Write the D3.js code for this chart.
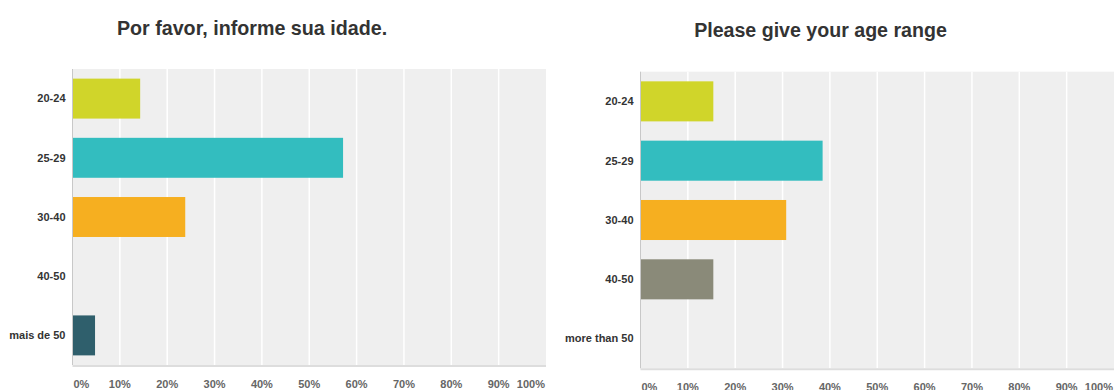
<!DOCTYPE html>
<html>
<head>
<meta charset="utf-8">
<script src="https://cdn.jsdelivr.net/npm/d3@7"></script>
<style>
  html, body { margin: 0; padding: 0; background: #fff; }
  svg { display: block; font-family: "Liberation Sans", Arial, Helvetica, sans-serif; }
</style>
</head>
<body>
<svg id="chart" width="1114" height="390"></svg>
<script>
// Survey: age ranges (share of respondents, %)
const ptTitle = "Por favor, informe sua idade.";
const ptCategories = ["20-24", "25-29", "30-40", "40-50", "mais de 50"];
const ptValues = [14.29, 57.14, 23.81, 0, 4.76];

const enTitle = "Please give your age range";
const enCategories = ["20-24", "25-29", "30-40", "40-50", "more than 50"];
const enValues = [15.38, 38.46, 30.77, 15.38, 0];

const barColors = ["#d0d52a", "#33bdbf", "#f6af20", "#8a8a79", "#2f5f6c"];
const tickValues = [0, 10, 20, 30, 40, 50, 60, 70, 80, 90, 100];
const tickLabels = ["0%", "10%", "20%", "30%", "40%", "50%", "60%", "70%", "80%", "90%", "100%"];

const svg = d3.select("#chart");

function drawPanel(opts) {
  const { title, categories, values, left, top, width, height, titleX, titleY, titleSize, tickY } = opts;
  const g = svg.append("g");

  const x = d3.scaleLinear().domain([0, 100]).range([left, left + width]);
  const y = d3.scaleBand().domain(categories).range([top, top + height])
    .paddingInner(0.325).paddingOuter(0.1625);

  // plot background
  g.append("rect")
    .attr("x", left).attr("y", top)
    .attr("width", width).attr("height", height)
    .attr("fill", "#efefef");

  // vertical gridlines
  g.selectAll(".grid").data(tickValues.filter(t => t > 0 && t < 100))
    .join("line")
    .attr("x1", d => x(d)).attr("x2", d => x(d))
    .attr("y1", top).attr("y2", top + height)
    .attr("stroke", "#ffffff").attr("stroke-width", 1.5);

  // bars
  g.selectAll(".bar").data(categories.map((c, i) => ({ c, v: values[i], i })))
    .join("rect")
    .attr("x", x(0))
    .attr("y", d => y(d.c))
    .attr("width", d => x(d.v) - x(0))
    .attr("height", y.bandwidth())
    .attr("fill", d => barColors[d.i]);

  // left axis line
  g.append("line")
    .attr("x1", left).attr("x2", left)
    .attr("y1", top).attr("y2", top + height)
    .attr("stroke", "#c8c8c8").attr("stroke-width", 1);

  // bottom axis line
  g.append("line")
    .attr("x1", left).attr("x2", left + width)
    .attr("y1", top + height + 1).attr("y2", top + height + 1)
    .attr("stroke", "#dddddd").attr("stroke-width", 2);

  // category labels
  g.selectAll(".cat").data(categories)
    .join("text")
    .attr("x", left - 7)
    .attr("y", d => y(d) + y.bandwidth() / 2)
    .attr("dy", "0.35em")
    .attr("text-anchor", "end")
    .attr("font-size", 11)
    .attr("font-weight", "bold")
    .attr("fill", "#333")
    .text(d => d);

  // x tick labels
  g.selectAll(".tick").data(tickValues)
    .join("text")
    .attr("x", (d, i) => i === 0 ? x(d) + 1 : (d === 100 ? x(d) - 1 : x(d)))
    .attr("y", tickY)
    .attr("text-anchor", d => d === 0 ? "start" : (d === 100 ? "end" : "middle"))
    .attr("font-size", 11)
    .attr("font-weight", "bold")
    .attr("fill", "#666")
    .text((d, i) => tickLabels[i]);

  // title
  g.append("text")
    .attr("x", titleX).attr("y", titleY)
    .attr("text-anchor", "middle")
    .attr("font-size", titleSize)
    .attr("font-weight", "bold")
    .attr("fill", "#333")
    .text(title);
}

drawPanel({
  title: ptTitle, categories: ptCategories, values: ptValues,
  left: 72.5, top: 69, width: 473.5, height: 296,
  titleX: 252, titleY: 34.5, titleSize: 19.7, tickY: 388
});

drawPanel({
  title: enTitle, categories: enCategories, values: enValues,
  left: 640.5, top: 71.7, width: 473.5, height: 296.6,
  titleX: 820.5, titleY: 37, titleSize: 19.6, tickY: 391
});
</script>
</body>
</html>
